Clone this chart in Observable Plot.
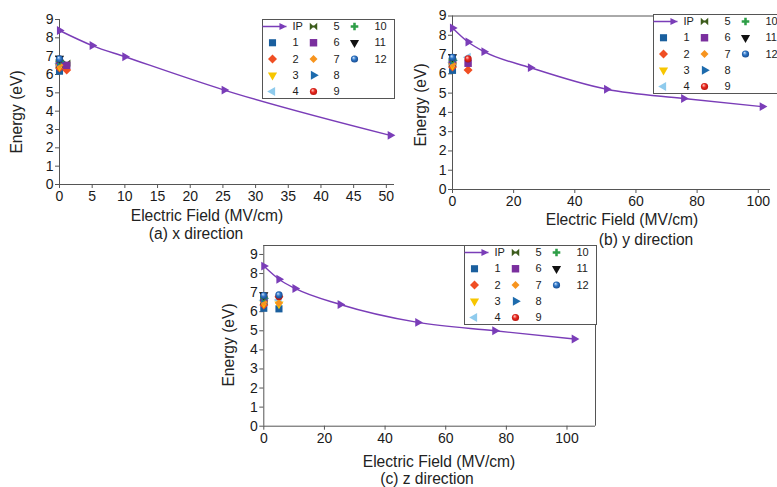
<!DOCTYPE html>
<html><head><meta charset="utf-8">
<script src="https://cdn.jsdelivr.net/npm/d3@7"></script>
<script src="https://cdn.jsdelivr.net/npm/@observablehq/plot@0.6"></script>
<style>
html,body{margin:0;padding:0;background:#fff;}
#wrap{position:relative;width:777px;height:487px;overflow:hidden;background:#fff;font-family:"Liberation Sans",Arial,sans-serif;color:#222;}
.lbl{position:absolute;white-space:nowrap;font-size:15.6px;transform:translate(-50%,-50%);line-height:1;}
.rot{transform:translate(-50%,-50%) rotate(-90deg);}
</style></head>
<body>
<svg width="0" height="0" style="position:absolute">
  <defs>
    <radialGradient id="g9" cx="0.5" cy="0.5" r="0.6" fx="0.35" fy="0.3">
      <stop offset="0" stop-color="#ffd6cc"/><stop offset="0.45" stop-color="#e8281f"/><stop offset="1" stop-color="#a80f0a"/>
    </radialGradient>
    <radialGradient id="g12" cx="0.5" cy="0.5" r="0.6" fx="0.35" fy="0.3">
      <stop offset="0" stop-color="#cfe4ff"/><stop offset="0.45" stop-color="#2c74c4"/><stop offset="1" stop-color="#123f80"/>
    </radialGradient>
  </defs>
</svg>
<div id="wrap"></div>
<script>
// ---------------- data ----------------
const states = ["1","2","3","4","5","6","7","8","9","10","11","12"];
const legendLabels = ["IP","1","2","3","4","5","6","7","8","9","10","11","12"];

// IP vs electric field (MV/cm)
const fieldA = [0, 5.0, 10.0, 25.2, 50.6];
const ipA    = [8.40, 7.58, 6.97, 5.15, 2.68];
const fieldB = [0, 5.1, 10.3, 25.5, 50.4, 75.6, 101.3];
const ipB    = [8.38, 7.65, 7.15, 6.32, 5.20, 4.72, 4.30];
const fieldC = [0, 5.0, 10.3, 25.2, 50.8, 76.2, 102.4];
const ipC    = [8.39, 7.70, 7.22, 6.38, 5.44, 5.00, 4.57];

// state energies (eV) at zero field (same in all directions)
const stateE0 = [6.18, 6.35, 6.45, 6.60, 6.55, 6.62, 6.50, 6.70, 6.82, 6.75, 6.88, 6.85];
// second field value and energies for each direction (null = not shown)
const clusterFieldA = 1.1;
const stateEA = [null, 6.25, null, null, 6.62, 6.50, null, null, null, null, null, null];
const clusterFieldB = 5.1;
const stateEB = [null, 6.20, null, 6.86, null, 6.55, null, null, 6.78, null, null, null];
const clusterFieldC = 5.0;
const stateEC = [6.15, 6.78, 6.40, 6.62, null, null, 6.46, null, 6.80, null, null, 6.88];

const xTicksA = [0,5,10,15,20,25,30,35,40,45,50];
const xTicksBC = [0,20,40,60,80,100];
const yTicks = [0,1,2,3,4,5,6,7,8,9];

// ---------------- styles ----------------
const bowtie = {draw(ctx, size){const s=Math.sqrt(size)/1.9;
  ctx.moveTo(-s,-s);ctx.lineTo(-s*0.2,-s*0.3);ctx.lineTo(s*0.2,-s*0.3);ctx.lineTo(s,-s);
  ctx.lineTo(s,s);ctx.lineTo(s*0.2,s*0.3);ctx.lineTo(-s*0.2,s*0.3);ctx.lineTo(-s,s);ctx.closePath();}};
const ipLegendSym = {draw(ctx, size){const s=Math.sqrt(size)/2.4;
  ctx.moveTo(-12,0);ctx.lineTo(12,0);
  ctx.moveTo(8-s,-s);ctx.lineTo(8+s*1.1,0);ctx.lineTo(8-s,s);ctx.closePath();}};
const IPC = "#7a3db8";
const stateStyle = [
  {symbol:"square",   fill:"#1a5f9e", rotate:0,   r:4.0},
  {symbol:"square",   fill:"#f04e23", rotate:45,  r:3.6},
  {symbol:"triangle", fill:"#f7c600", rotate:180, r:3.4},
  {symbol:"triangle", fill:"#8fcbed", rotate:270, r:3.4},
  {symbol:bowtie,     fill:"#3d5c1c", rotate:0,   r:4.0},
  {symbol:"square",   fill:"#7a2f9e", rotate:0,   r:4.2},
  {symbol:"square",   fill:"#f7941e", rotate:45,  r:3.2},
  {symbol:"triangle", fill:"#1d6bad", rotate:90,  r:3.4},
  {symbol:"circle",   fill:"url(#g9)",rotate:0,   r:3.6},
  {symbol:"cross",    fill:"#2e9e47", rotate:0,   r:3.2},
  {symbol:"triangle", fill:"#111111", rotate:180, r:3.4},
  {symbol:"circle",   fill:"url(#g12)",rotate:0,  r:3.6}
];

const wrap = document.getElementById("wrap");
const FONT = "'Liberation Sans', Arial, sans-serif";

function place(el, left, top){el.style.position="absolute";el.style.left=left+"px";el.style.top=top+"px";wrap.appendChild(el);}
function label(text, cx, cy, rot){const d=document.createElement("div");d.className="lbl"+(rot?" rot":"");d.textContent=text;d.style.left=cx+"px";d.style.top=cy+"px";wrap.appendChild(d);}

function stateMarks(clusterField, clusterE){
  const marks = [];
  states.forEach((s,i)=>{
    const pts = [{state:s, field:0, e:stateE0[i]}];
    if (clusterE[i] != null) pts.push({state:s, field:clusterField, e:clusterE[i]});
    const st = stateStyle[i];
    marks.push(Plot.dot(pts, {x:"field", y:"e", symbol:st.symbol, fill:st.fill, rotate:st.rotate, r:st.r, stroke:"none"}));
  });
  return marks;
}

function panel(cfg){
  const ipData = cfg.field.map((f,i)=>({field:f, ip:cfg.ip[i]}));
  const marks = [
    Plot.ruleX([0], {stroke:"#555", strokeWidth:1}),
    Plot.ruleY([0], {stroke:"#555", strokeWidth:1}),
  ];
  if (cfg.top) marks.push(Plot.ruleY([cfg.yMax], {stroke:"#555"}));
  if (cfg.right) marks.push(Plot.ruleX([cfg.xMax], {stroke:"#555"}));
  marks.push(
    Plot.axisX({ticks:cfg.xTicks, tickSize:4, tickPadding:3, label:null, fontSize:14, stroke:"#555", fill:"#1a1a1a", tickFormat:d=>String(d)}),
    Plot.axisY({ticks:yTicks, tickSize:4, tickPadding:2, label:null, fontSize:14, stroke:"#555", fill:"#1a1a1a", tickFormat:d=>String(d)}),
    ...stateMarks(cfg.cf, cfg.ce),
    Plot.line(ipData, {x:"field", y:"ip", stroke:IPC, strokeWidth:1.4, curve:"monotone-x"}),
    Plot.dot(ipData, {x:"field", y:"ip", symbol:"triangle", rotate:90, r:3.3, fill:IPC, stroke:"none"})
  );
  const svg = Plot.plot({
    width:cfg.width, height:cfg.height,
    marginLeft:cfg.mL, marginRight:cfg.mR, marginTop:cfg.mT, marginBottom:cfg.mB,
    x:{domain:[0,cfg.xMax]}, y:{domain:[0,cfg.yMax]},
    style:{fontFamily:FONT, fontSize:"14px", color:"#1a1a1a", background:"transparent", overflow:"visible"},
    marks
  });
  place(svg, cfg.left, cfg.top0);
}

function legend(left, top){
  const items = legendLabels.map((l,i)=>({label:l, col:Math.floor(i/5), row:i%5, idx:i}));
  const marks = [Plot.frame({stroke:"#555", strokeWidth:1})];
  items.forEach(it=>{
    if (it.idx===0) marks.push(Plot.dot([it], {x:"col", y:"row", symbol:ipLegendSym, r:3.2, fill:IPC, stroke:IPC, strokeWidth:1.4, dx:2}));
    else { const st = stateStyle[it.idx-1];
      marks.push(Plot.dot([it], {x:"col", y:"row", symbol:st.symbol, fill:st.fill, rotate:st.rotate, r:st.r, stroke:"none"})); }
  });
  marks.push(Plot.text(items, {x:"col", y:"row", text:"label", dx:20, textAnchor:"start", fontSize:11, fill:"#222"}));
  const svg = Plot.plot({
    width:132, height:79, margin:0,
    x:{domain:[0,2], range:[10,92], axis:null},
    y:{domain:[0,4], range:[7,72], axis:null},
    style:{fontFamily:FONT, fontSize:"11px", background:"#fff", overflow:"visible"},
    marks
  });
  place(svg, left, top);
}

// (a) x direction
panel({left:0, top0:0, width:400, height:250, mL:59, mR:6, mT:19, mB:66, xMax:51.25, yMax:9,
  xTicks:xTicksA, field:fieldA, ip:ipA, cf:clusterFieldA, ce:stateEA, top:false, right:false});
legend(262, 19);
label("Energy (eV)", 17, 112, true);
label("Electric Field (MV/cm)", 207, 216);
label("(a) x direction", 196, 234);

// (b) y direction
panel({left:390, top0:0, width:400, height:250, mL:62, mR:20, mT:15.5, mB:61, xMax:104, yMax:9,
  xTicks:xTicksBC, field:fieldB, ip:ipB, cf:clusterFieldB, ce:stateEB, top:true, right:false});
legend(653, 14);
label("Energy (eV)", 421, 105, true);
label("Electric Field (MV/cm)", 622, 220);
label("(b) y direction", 646, 240);

// (c) z direction
panel({left:200, top0:240, width:400, height:247, mL:63.3, mR:5, mT:5, mB:61.3, xMax:109.4, yMax:9.47,
  xTicks:xTicksBC, field:fieldC, ip:ipC, cf:clusterFieldC, ce:stateEC, top:true, right:true});
legend(464, 245);
label("Energy (eV)", 229, 345, true);
label("Electric Field (MV/cm)", 439, 462);
label("(c) z direction", 427, 479);
</script>
</body></html>
